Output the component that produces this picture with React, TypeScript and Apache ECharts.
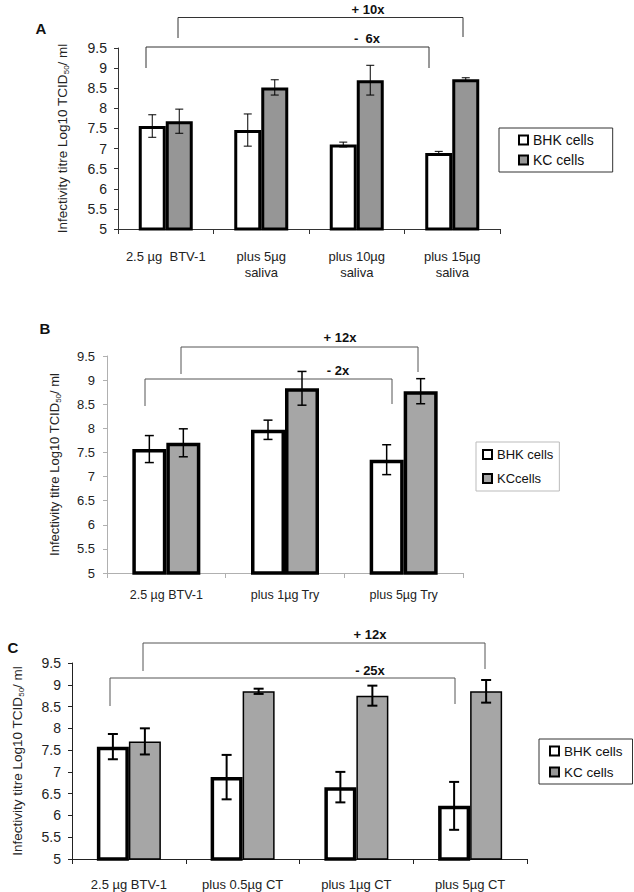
import { useEffect, useRef } from 'react';
import * as echarts from 'echarts';

// ---------- Data ----------
const catsA = ['2.5 µg  BTV-1', 'plus 5µg\nsaliva', 'plus 10µg\nsaliva', 'plus 15µg\nsaliva'];
const bhkA = [7.56, 7.46, 7.1, 6.89];
const bhkErrA = [0.28, 0.4, 0.06, 0.04];
const kcA = [7.68, 8.52, 8.7, 8.72];
const kcErrA = [0.3, 0.19, 0.37, 0.04];

const catsB = ['2.5 µg BTV-1', 'plus 1µg Try', 'plus 5µg Try'];
const bhkB = [7.57, 7.97, 7.35];
const bhkErrB = [0.28, 0.2, 0.31];
const kcB = [7.7, 8.83, 8.77];
const kcErrB = [0.29, 0.35, 0.26];

const catsC = ['2.5 µg BTV-1', 'plus 0.5µg CT', 'plus 1µg CT', 'plus 5µg CT'];
const bhkC = [7.58, 6.88, 6.65, 6.22];
const bhkErrC = [0.29, 0.51, 0.35, 0.55];
const kcC = [7.7, 8.85, 8.75, 8.85];
const kcErrC = [0.3, 0.06, 0.23, 0.26];

const legendA = ['BHK cells', 'KC cells'];
const legendB = ['BHK cells', 'KCcells'];
const legendC = ['BHK cells', 'KC cells'];

const yTicks = { min: 5, max: 9.5, interval: 0.5 };
const yName = 'Infectivity titre Log10 TCID{s|50}/ ml';
const bracketLabels = { A: ['+ 10x', '-  6x'], B: ['+ 12x', '- 2x'], C: ['+ 12x', '- 25x'] };

const FONT = '"Liberation Sans", Arial, sans-serif';

type PanelCfg = {
  idx: number;
  cats: string[];
  bhk: number[];
  bhkErr: number[];
  kc: number[];
  kcErr: number[];
  names: string[];
  grid: { left: number; top: number; width: number; height: number };
  barWidth: number;
  kcColor: string;
  bhkBorder: number;
  kcBorder: number;
  errWidth: number;
  capHalf: number;
  labelMargin: number;
  nameGap: number;
  axisColor: string;
  tickFont: number;
  catFont: number;
  nameFont: number;
  yLabelMargin: number;
};

function errSeries(cfg: PanelCfg, vals: number[], errs: number[], sign: number) {
  const data = vals.map((v, i) => [i, v - errs[i], v + errs[i]]);
  return {
    type: 'custom',
    xAxisIndex: cfg.idx,
    yAxisIndex: cfg.idx,
    z: 10,
    silent: true,
    encode: { x: 0, y: [1, 2] },
    data,
    renderItem: (params: any, api: any) => {
      const ci = api.value(0);
      const lo = api.coord([ci, api.value(1)]);
      const hi = api.coord([ci, api.value(2)]);
      const x = lo[0] + (sign * cfg.barWidth) / 2;
      const st = { stroke: '#000', lineWidth: cfg.errWidth };
      return {
        type: 'group',
        children: [
          { type: 'line', shape: { x1: x, y1: lo[1], x2: x, y2: hi[1] }, style: st },
          { type: 'line', shape: { x1: x - cfg.capHalf, y1: lo[1], x2: x + cfg.capHalf, y2: lo[1] }, style: st },
          { type: 'line', shape: { x1: x - cfg.capHalf, y1: hi[1], x2: x + cfg.capHalf, y2: hi[1] }, style: st },
        ],
      };
    },
  };
}

function panel(cfg: PanelCfg) {
  const axisColor = cfg.axisColor;
  const xAxis = {
    gridIndex: cfg.idx,
    type: 'category',
    data: cfg.cats,
    axisLine: { lineStyle: { color: axisColor, width: 1 } },
    axisTick: { show: true, alignWithLabel: false, length: 5, lineStyle: { color: axisColor } },
    axisLabel: { color: '#222', fontSize: cfg.catFont, fontFamily: FONT, margin: cfg.labelMargin, lineHeight: 16, interval: 0 },
    splitLine: { show: false },
  };
  const yAxis = {
    gridIndex: cfg.idx,
    type: 'value',
    ...yTicks,
    axisLine: { show: true, lineStyle: { color: axisColor, width: 1 } },
    axisTick: { show: true, length: 4, lineStyle: { color: axisColor } },
    axisLabel: { color: '#222', fontSize: cfg.tickFont, fontFamily: FONT, margin: cfg.yLabelMargin },
    splitLine: { show: false },
    name: yName,
    nameLocation: 'middle',
    nameGap: cfg.nameGap,
    nameTextStyle: {
      color: '#222',
      fontSize: cfg.nameFont,
      fontFamily: FONT,
      rich: { s: { fontSize: 8, fontFamily: FONT, color: '#222', padding: [7, 0, 0, 0] } },
    },
  };
  const series = [
    {
      type: 'bar',
      name: cfg.names[0],
      xAxisIndex: cfg.idx,
      yAxisIndex: cfg.idx,
      data: cfg.bhk,
      barWidth: cfg.barWidth,
      barGap: '0%',
      itemStyle: { color: '#fff', borderColor: '#000', borderWidth: cfg.bhkBorder },
    },
    {
      type: 'bar',
      name: cfg.names[1],
      xAxisIndex: cfg.idx,
      yAxisIndex: cfg.idx,
      data: cfg.kc,
      barWidth: cfg.barWidth,
      barGap: '0%',
      itemStyle: { color: cfg.kcColor, borderColor: '#000', borderWidth: cfg.kcBorder },
    },
    errSeries(cfg, cfg.bhk, cfg.bhkErr, -1),
    errSeries(cfg, cfg.kc, cfg.kcErr, 1),
  ];
  return { grid: cfg.grid, xAxis, yAxis, series };
}

function bracket(points: number[][], color: string) {
  return { type: 'polyline', shape: { points }, style: { stroke: color, lineWidth: 1, fill: null } };
}
function label(text: string, x: number, y: number, size = 13) {
  return {
    type: 'text',
    x,
    y,
    style: { text, font: `bold ${size}px ${FONT}`, fill: '#111', textAlign: 'center', textVerticalAlign: 'middle' },
  };
}

export default function App() {
  const ref = useRef<HTMLDivElement>(null);
  useEffect(() => {
    const chart = echarts.init(ref.current!, null, { renderer: 'svg' });
    const pA = panel({
      idx: 0, cats: catsA, bhk: bhkA, bhkErr: bhkErrA, kc: kcA, kcErr: kcErrA, names: legendA,
      grid: { left: 118, top: 48, width: 382, height: 181 },
      barWidth: 27, kcColor: '#969696', bhkBorder: 3, kcBorder: 3, errWidth: 1, capHalf: 4, labelMargin: 19, nameGap: 48,
      axisColor: '#333', tickFont: 14, catFont: 13, nameFont: 13.5, yLabelMargin: 11,
    });
    const pB = panel({
      idx: 1, cats: catsB, bhk: bhkB, bhkErr: bhkErrB, kc: kcB, kcErr: kcErrB, names: legendB,
      grid: { left: 107, top: 356, width: 356, height: 217 },
      barWidth: 34, kcColor: '#a6a6a6', bhkBorder: 3.5, kcBorder: 3.5, errWidth: 1.5, capHalf: 4.5, labelMargin: 14, nameGap: 45,
      axisColor: '#b0b0b0', tickFont: 13, catFont: 12.5, nameFont: 13, yLabelMargin: 12,
    });
    const pC = panel({
      idx: 2, cats: catsC, bhk: bhkC, bhkErr: bhkErrC, kc: kcC, kcErr: kcErrC, names: legendC,
      grid: { left: 72, top: 663, width: 455, height: 196 },
      barWidth: 32, kcColor: '#a6a6a6', bhkBorder: 3.5, kcBorder: 1.5, errWidth: 2, capHalf: 5, labelMargin: 17, nameGap: 47,
      axisColor: '#222', tickFont: 14, catFont: 13, nameFont: 13.5, yLabelMargin: 11,
    });
    const legendBase = {
      orient: 'vertical',
      icon: 'rect',
      itemWidth: 9,
      itemHeight: 9,
      borderWidth: 1,
      selectedMode: false,
      textStyle: { color: '#111', fontFamily: FONT, fontSize: 13 },
    };
    const option = {
      animation: false,
      backgroundColor: '#fff',
      grid: [pA.grid, pB.grid, pC.grid],
      xAxis: [pA.xAxis, pB.xAxis, pC.xAxis],
      yAxis: [pA.yAxis, pB.yAxis, pC.yAxis],
      series: [...pA.series, ...pB.series, ...pC.series],
      legend: [
        { ...legendBase, data: legendA, left: 499, top: 128, padding: [5, 19, 5, 19], itemGap: 6, borderColor: '#333', textStyle: { ...legendBase.textStyle, fontSize: 14 } },
        { ...legendBase, data: legendB, left: 476, top: 442, padding: [6, 6, 6, 6], itemGap: 11, borderColor: '#bbb' },
        { ...legendBase, data: legendC, left: 539, top: 739, padding: [5, 10, 5, 10], itemGap: 7, borderColor: '#333', textStyle: { ...legendBase.textStyle, fontSize: 13.5 } },
      ],
      graphic: [
        label('A', 41, 28, 15),
        label('B', 45, 328, 15),
        label('C', 13, 647, 15),
        bracket([[178, 38], [178, 17.5], [463, 17.5], [463, 37]], '#333'),
        bracket([[146, 68], [146, 47], [429, 47], [429, 68]], '#333'),
        label(bracketLabels.A[0], 368, 9),
        label(bracketLabels.A[1], 367, 38),
        bracket([[181, 374], [181, 347], [418, 347], [418, 372]], '#555'),
        bracket([[145, 406], [145, 379], [392, 379], [392, 404]], '#555'),
        label(bracketLabels.B[0], 340, 337),
        label(bracketLabels.B[1], 338, 370),
        bracket([[143, 671], [143, 643], [485, 643], [485, 669]], '#555'),
        bracket([[110, 706], [110, 678], [455, 678], [455, 704]], '#555'),
        label(bracketLabels.C[0], 370, 634),
        label(bracketLabels.C[1], 370, 670),
      ],
    };
    chart.setOption(option as any);
    return () => chart.dispose();
  }, []);
  return (
    <div
      ref={ref}
      style={{ position: 'absolute', left: 0, top: 0, width: 634, height: 892, background: '#fff' }}
    />
  );
}
